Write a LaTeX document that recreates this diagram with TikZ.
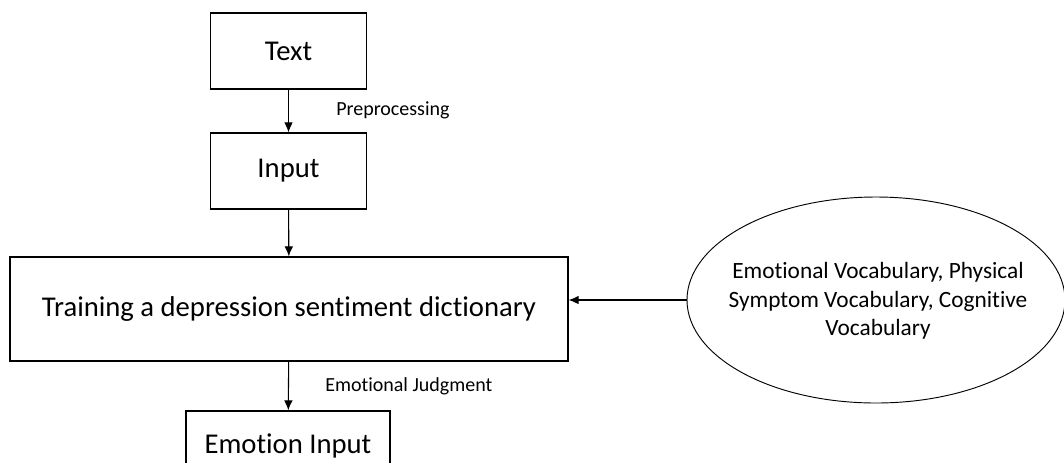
\documentclass[tikz,border=0pt]{standalone}
\usepackage{fontspec}
\setmainfont[Ligatures=NoCommon]{Carlito}
\usetikzlibrary{shapes.geometric, arrows.meta}

\begin{document}
\begin{tikzpicture}[x=0.75pt, y=-0.75pt, >={Latex[length=7.5pt, width=6.5pt]},
    boxnode/.style={draw, line width=1pt, inner sep=0pt, font=\fontsize{21.5}{25}\selectfont},
    lbl/.style={anchor=west, inner sep=0pt, font=\fontsize{15}{18}\selectfont},
    arr/.style={->, line width=0.8pt}]
            \useasboundingbox (0,0) rectangle (1064,462);
            \clip (0,0) rectangle (1064,462);

            % Kasten links
            \node[boxnode, minimum width=117pt, minimum height=57pt] (text) at (288.5,51) {Text};
            \node[boxnode, minimum width=117pt, minimum height=57pt] (input) at (288.5,171) {Input};
            \node[boxnode, minimum width=418.5pt, minimum height=78pt] (train) at (289,309) {Training a depression sentiment dictionary};
            \node[boxnode, minimum width=153pt, minimum height=67.5pt] (emo) at (288,456) {};
            \node[font=\fontsize{21.5}{25}\selectfont, inner sep=0pt] (emotxt) at (288,446) {Emotion Input};

            % Ellipse rechts
            \node[ellipse, draw, line width=0.7pt, minimum width=283.5pt, minimum height=154.5pt, inner sep=0pt] (vocab) at (876,300) {};
            \node[align=center, inner sep=0pt, font=\fontsize{17.5}{21.4}\selectfont] (vocabtxt) at (878,301)
                  {Emotional Vocabulary, Physical\\Symptom Vocabulary, Cognitive\\Vocabulary};

            % Pfeile
            \draw[arr] (text) -- (input);
            \draw[arr] (input) -- (train);
            \draw[arr] (train) -- (emo);
            \draw[arr] (vocab.west) -- (train.east |- vocab.west);

            \node[lbl] (pre) at (336,110) {Preprocessing};
            \node[lbl] (judge) at (325,386) {Emotional Judgment};
        \end{tikzpicture}
\end{document}
